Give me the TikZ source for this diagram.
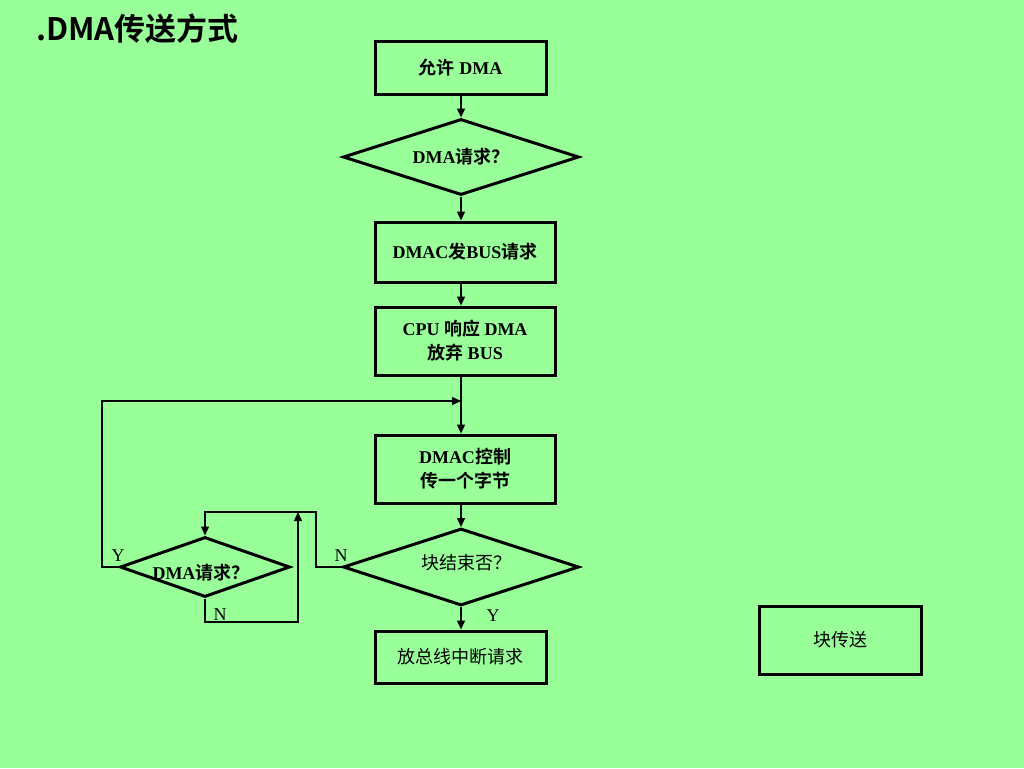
\documentclass[tikz,border=0pt]{standalone}
\usepackage{fontspec}
\setmainfont{Liberation Serif}
\newfontfamily\cjk{Noto Sans CJK SC}[BoldFont={Noto Sans CJK SC Bold}]
\usetikzlibrary{shapes.geometric,arrows.meta}
\definecolor{bg}{RGB}{153,255,153}
\newcommand\zh[1]{{\cjk #1}}
\begin{document}
\begin{tikzpicture}[x=1pt,y=-1pt,
  box/.style={draw,line width=3pt,rectangle,inner sep=0pt,align=center,
    font=\fontsize{18}{24}\selectfont\bfseries},
  dia/.style={draw,line width=3pt,diamond,inner sep=0pt,shape aspect=3,
    font=\fontsize{18}{24}\selectfont\bfseries},
  conn/.style={line width=1.4pt},
  arr/.style={conn,-{Triangle[length=9pt,width=8pt]}},
  lab/.style={inner sep=0pt,font=\fontsize{18}{20}\selectfont}]
\useasboundingbox (0,0) rectangle (1024,768);
\fill[bg] (0,0) rectangle (1024,768);
\node[anchor=west,inner sep=0pt,font=\fontsize{31}{33}\selectfont\cjk\bfseries] (title) at (36,29) {.DMA传送方式};
% main column
\node[box,minimum width=171pt,minimum height=52pt] (b1) at (460.5,68) {\zh{允许} DMA};
\node[dia,minimum width=236pt,minimum height=76pt] (d1) at (461,157) {DMA\zh{请求？}};
\node[box,minimum width=180pt,minimum height=60pt] (b2) at (465,252) {DMAC\zh{发}BUS\zh{请求}};
\node[box,minimum width=180pt,minimum height=68pt] (b3) at (465,341) {CPU \zh{响应} DMA\\\zh{放弃} BUS};
\node[box,minimum width=180pt,minimum height=68pt] (b4) at (465,469) {DMAC\zh{控制}\\\zh{传一个字节}};
\node[dia,minimum width=236pt,minimum height=77pt] (d2) at (461,567) {};
\node[inner sep=0pt,font=\fontsize{18}{24}\selectfont\cjk] (d2t) at (466,563) {块结束否？};
\node[box,minimum width=171pt,minimum height=52pt,font=\fontsize{18}{24}\selectfont\cjk] (b5) at (460.5,657) {放总线中断请求};
\node[box,minimum width=162pt,minimum height=68pt,font=\fontsize{18}{24}\selectfont\cjk] (b6) at (840,640) {块传送};
% small diamond
\node[dia,minimum width=170pt,minimum height=60pt] (d3) at (205,567) {};
\node[inner sep=0pt,font=\fontsize{18}{24}\selectfont\bfseries] (d3t) at (201,573) {DMA\zh{请求？}};
% coordinates
\coordinate (j) at (461,401);
\coordinate (yl) at (102,567);
\coordinate (nL) at (316,512);
\coordinate (nB) at (298,622);
\coordinate (nT) at (298,512);
% connectors
\draw[arr] (b1.south -| d1.north) -- (d1.north);
\draw[arr] (d1.south) -- (d1.south |- b2.north);
\draw[arr] (b2.south -| d1.south) -- (b3.north -| d1.south);
\draw[arr] (b3.south -| d1.south) -- (b4.north -| d1.south);
\draw[arr] (b4.south -| d2.north) -- (d2.north);
\draw[arr] (d2.south) -- (d2.south |- b5.north);
\draw[arr] (d3.west) -- (yl) |- (j);
\draw[arr] (d2.west) -| (nL) -| (d3.north);
\draw[arr] (d3.south) |- (nB) -- (nT);
% labels
\node[lab] (ly1) at (118,556) {Y};
\node[lab] (ln1) at (341,556) {N};
\node[lab] (ln2) at (220,615) {N};
\node[lab] (ly2) at (493,616) {Y};
\end{tikzpicture}
\end{document}
